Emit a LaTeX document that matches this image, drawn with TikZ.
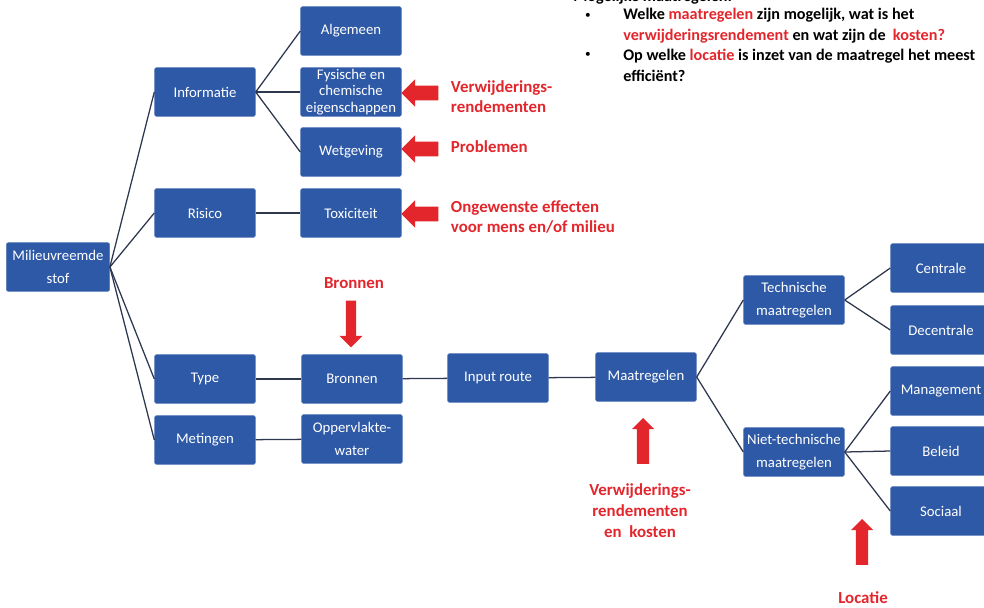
\documentclass[tikz,border=0pt]{standalone}
\usepackage{fontspec}
\setmainfont{Carlito}
\usetikzlibrary{shapes.arrows}
\definecolor{blauw}{RGB}{46,89,166}
\definecolor{rood}{RGB}{226,38,44}
\definecolor{lijn}{RGB}{45,55,78}
\newcommand{\rd}[1]{\textcolor{rood}{#1}}
\tikzset{
	blok/.style={fill=blauw, draw=blauw!80!white, rounded corners=1.5pt, text=white, minimum width=2.52cm, minimum height=1.22cm, align=center, inner sep=1pt, font=\fontsize{10.5}{16.5}\selectfont},
	tak/.style={draw=lijn, line width=0.9pt},
	pijl/.style={single arrow, fill=rood, draw=none, inner xsep=0pt, minimum height=#1},
	rodetekst/.style={text=rood, font=\bfseries\fontsize{12}{14.5}\selectfont},
	vraag/.style={font=\bfseries\fontsize{11.5}{15}\selectfont, align=left, inner sep=0pt},
	opsom/.style={font=\fontsize{8}{8}\selectfont, inner sep=0pt}
}
\begin{document}
\begin{tikzpicture}[x=0.025cm, y=-0.025cm]
		\useasboundingbox (0,0) rectangle (984,607);

		\node[blok, minimum width=2.58cm] (stof) at (58,267) {Milieuvreemde\\stof};
		\node[blok] (info) at (205,92) {Informatie};
		\node[blok] (risico) at (205,213) {Risico};
		\node[blok] (type) at (205,379) {Type};
		\node[blok] (metingen) at (205,440) {Metingen};
		\node[blok] (algemeen) at (351,31) {Algemeen};
		\node[blok, font=\fontsize{10.5}{11.5}\selectfont] (fysisch) at (351,92) {Fysische en\\chemische\\eigenschappen};
		\node[blok] (wetgeving) at (351,152) {Wetgeving};
		\node[blok] (toxiciteit) at (351,213) {Toxiciteit};
		\node[blok] (bronnen) at (352,379) {Bronnen};
		\node[blok] (opp) at (352,439) {Oppervlakte-\\water};
		\node[blok] (input) at (498,378) {Input route};
		\node[blok] (maatr) at (646,377) {Maatregelen};
		\node[blok] (techn) at (794,300) {Technische\\maatregelen};
		\node[blok] (niettechn) at (794,452) {Niet-technische\\maatregelen};
		\node[blok] (centrale) at (941,268) {Centrale};
		\node[blok] (decentrale) at (941,330) {Decentrale};
		\node[blok] (management) at (941,391) {Management};
		\node[blok] (beleid) at (941,451) {Beleid};
		\node[blok] (sociaal) at (941,511) {Sociaal};

		\draw[tak] (stof.east) -- (info.west);
		\draw[tak] (stof.east) -- (risico.west);
		\draw[tak] (stof.east) -- (type.west);
		\draw[tak] (stof.east) -- (metingen.west);
		\draw[tak] (info.east) -- (algemeen.west);
		\draw[tak] (info.east) -- (fysisch.west);
		\draw[tak] (info.east) -- (wetgeving.west);
		\draw[tak] (risico) -- (toxiciteit);
		\draw[tak] (type) -- (bronnen);
		\draw[tak] (metingen) -- (opp);
		\draw[tak] (bronnen) -- (input);
		\draw[tak] (input) -- (maatr);
		\draw[tak] (maatr.east) -- (techn.west);
		\draw[tak] (maatr.east) -- (niettechn.west);
		\draw[tak] (techn.east) -- (centrale.west);
		\draw[tak] (techn.east) -- (decentrale.west);
		\draw[tak] (niettechn.east) -- (management.west);
		\draw[tak] (niettechn.east) -- (beleid.west);
		\draw[tak] (niettechn.east) -- (sociaal.west);

		\node[pijl=26.2pt, inner ysep=5pt, single arrow head extend=4.6pt, rotate=180] (pijlfysisch) at (423.5,93) {};
		\node[pijl=26.2pt, inner ysep=5pt, single arrow head extend=4.6pt, rotate=180] (pijlwet) at (423.5,149) {};
		\node[pijl=26.2pt, inner ysep=5pt, single arrow head extend=4.6pt, rotate=180] (pijltox) at (423.5,214) {};
		\node[pijl=33.3pt, inner ysep=3.4pt, single arrow head extend=4.6pt, rotate=-90] (pijlbron) at (351,321.5) {};
		\node[pijl=32.6pt, inner ysep=4.2pt, single arrow head extend=3.6pt, rotate=90] (pijlmaatr) at (643,444) {};
		\node[pijl=32.6pt, inner ysep=4.2pt, single arrow head extend=3.6pt, rotate=90] (pijllocatie) at (862,545) {};

		\node[rodetekst, anchor=west, align=left] (lblrendement) at (446,96.5) {Verwijderings-\\rendementen};
		\node[rodetekst, anchor=west] (lblproblemen) at (446,147) {Problemen};
		\node[rodetekst, anchor=west, align=left] (lbleffecten) at (446,217) {Ongewenste effecten\\voor mens en/of milieu};
		\node[rodetekst] (lblbronnen) at (354,283) {Bronnen};
		\node[rodetekst, align=center, font=\bfseries\fontsize{12}{15}\selectfont] (lblkosten) at (640,511) {Verwijderings-\\rendementen\\en\ \ kosten};
		\node[rodetekst] (lbllocatie) at (863,598) {Locatie};

		\node[vraag, anchor=base west] (kop) at (573,1) {Mogelijke maatregelen:};
		\node[opsom] (bullet1) at (588,16) {•};
		\node[vraag, anchor=west] (vraag1) at (623,26) {Welke \rd{maatregelen} zijn mogelijk, wat is het\\\rd{verwijderingsrendement} en wat zijn de\ \ \rd{kosten?}};
		\node[opsom] (bullet2) at (588,55) {•};
		\node[vraag, anchor=west] (vraag2) at (623,65) {Op welke \rd{locatie} is inzet van de maatregel het meest\\efficiënt?};
	\end{tikzpicture}
\end{document}
